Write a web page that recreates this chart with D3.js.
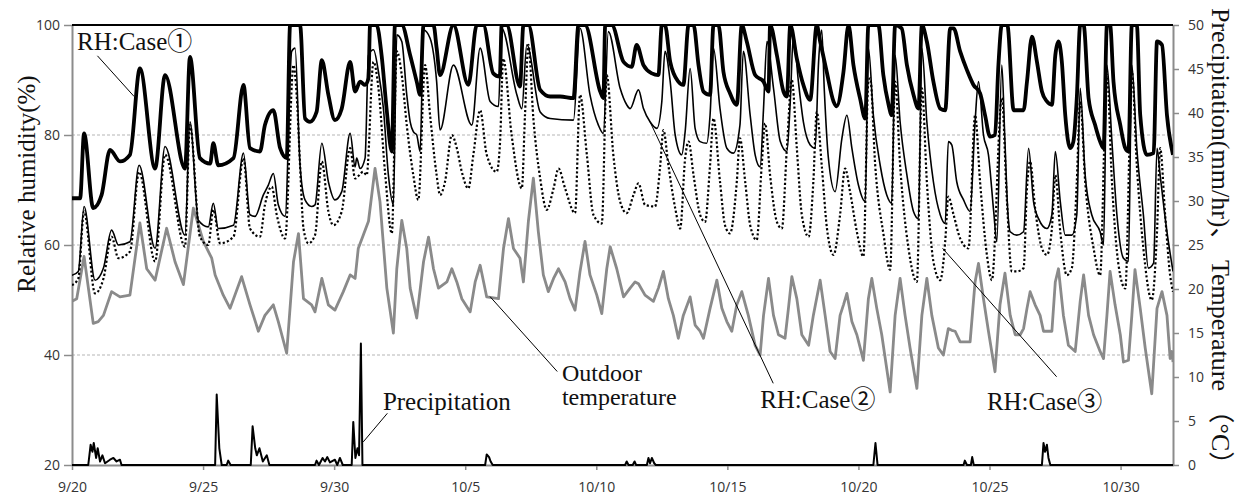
<!DOCTYPE html>
<html>
<head>
<meta charset="utf-8">
<script src="https://cdn.jsdelivr.net/npm/d3@7"></script>
<style>
  body { margin: 0; background: #fff; }
  .tick text { font-family: "Open Sans", sans-serif; font-size: 14px; fill: #333; }
  .serif { font-family: "Liberation Serif", "Noto Sans CJK JP", serif; fill: #111; }
</style>
</head>
<body>
<div id="chart"></div>
<script>
// [day since 9/20 00:00, value]
const rhCase1 = [[0.00,68.5],[0.31,68.5],[0.46,80.3],[0.81,66.7],[1.13,69.1],[1.45,77.3],[1.83,75.2],[2.21,76.4],[2.59,92.1],[3.17,73.9],[3.55,90.9],[4.31,73.9],[4.50,94.2],[4.88,75.8],[5.27,74.8],[5.39,78.5],[5.58,74.5],[6.16,75.8],[6.54,89.1],[6.79,77.6],[7.17,77.0],[7.36,81.8],[7.68,84.5],[7.94,77.6],[8.19,75.8],[8.32,100],[8.70,100],[8.89,83.0],[9.08,82.4],[9.33,84.2],[9.53,93.6],[9.78,87.3],[10.03,82.7],[10.29,84.8],[10.61,93.3],[10.80,87.9],[10.99,89.7],[11.18,89.1],[11.31,90.3],[11.37,100],[11.62,100],[11.81,94.5],[12.00,84.8],[12.20,77.0],[12.32,100],[12.58,100],[12.90,94.5],[13.15,89.7],[13.28,87.3],[13.41,100],[13.79,100],[13.91,95.8],[14.04,90.9],[14.55,100],[15.12,89.1],[15.44,100],[15.69,100],[16.07,91.2],[16.32,90.6],[16.39,100],[16.58,100],[17.09,88.8],[17.22,100],[17.41,100],[17.86,88.2],[18.24,87.0],[18.62,87.0],[19.13,86.7],[19.32,100],[19.57,100],[20.15,87.9],[20.27,86.7],[20.34,100],[20.59,100],[21.04,93.3],[21.35,92.4],[21.54,96.4],[21.80,92.7],[22.12,91.2],[22.37,90.9],[22.50,100],[22.62,100],[22.82,93.3],[23.13,89.7],[23.32,89.1],[23.52,100],[23.71,100],[23.90,92.7],[24.09,87.9],[24.34,87.3],[24.47,100],[24.66,100],[24.85,91.5],[25.10,87.6],[25.36,85.5],[25.55,100],[25.74,97.0],[26.06,90.9],[26.38,89.7],[26.57,87.9],[26.63,100],[26.89,94.5],[27.14,87.9],[27.27,87.0],[27.40,100],[27.65,93.9],[27.90,89.1],[28.16,86.4],[28.41,100],[28.54,97.0],[28.79,91.5],[29.05,86.1],[29.17,85.2],[29.43,91.5],[29.62,100],[29.81,92.7],[30.06,86.7],[30.26,83.0],[30.38,100],[30.76,100],[30.95,90.9],[31.15,85.5],[31.27,83.6],[31.40,100],[31.65,99.4],[31.85,92.7],[32.10,87.3],[32.29,84.8],[32.42,100],[32.61,97.0],[32.86,89.7],[33.12,84.8],[33.31,84.5],[33.50,99.4],[33.63,99.4],[33.88,95.2],[34.14,91.8],[34.39,89.1],[34.64,87.6],[34.83,83.6],[35.02,79.7],[35.21,80.0],[35.34,92.7],[35.47,100],[35.68,100],[35.92,84.5],[36.30,84.5],[36.43,89.7],[36.62,97.9],[36.81,93.3],[37.00,87.9],[37.19,86.1],[37.38,85.5],[37.51,94.5],[37.63,97.0],[37.76,93.3],[37.89,83.6],[38.08,77.6],[38.20,78.8],[38.33,86.7],[38.46,100],[38.59,100],[38.78,86.7],[39.03,81.8],[39.22,78.8],[39.35,77.6],[39.48,100],[39.60,100],[39.73,89.7],[39.99,81.8],[40.18,77.6],[40.30,77.0],[40.43,100],[40.62,100],[40.75,83.6],[41.00,76.4],[41.26,76.7],[41.39,97.0],[41.58,96.4],[41.77,83.6],[42.00,76.4]];

const rhCase2 = [[0.00,54.5],[0.24,55.2],[0.46,67.0],[0.88,53.6],[1.20,55.8],[1.51,62.7],[1.77,60.0],[2.21,60.6],[2.56,74.5],[3.17,59.4],[3.55,77.9],[4.31,61.8],[4.50,82.4],[4.82,64.5],[5.20,63.3],[5.39,67.6],[5.58,63.0],[6.16,63.6],[6.54,76.7],[6.79,65.5],[6.98,65.2],[7.30,69.1],[7.49,70.9],[7.68,73.0],[7.87,67.3],[8.13,65.2],[8.38,95.2],[8.51,95.8],[8.70,74.5],[8.89,68.2],[9.14,67.0],[9.27,67.3],[9.53,78.5],[9.78,71.5],[10.03,68.2],[10.29,69.7],[10.61,80.3],[10.80,74.2],[10.86,75.8],[10.99,73.9],[11.18,75.8],[11.31,94.5],[11.50,95.5],[11.69,91.5],[11.88,84.8],[12.07,72.7],[12.26,67.3],[12.39,98.2],[12.58,97.0],[12.77,87.3],[12.90,82.4],[13.02,80.6],[13.15,80.0],[13.28,77.0],[13.41,99.1],[13.66,97.6],[13.91,89.7],[14.04,80.9],[14.55,92.7],[15.25,81.8],[15.57,95.8],[15.95,86.1],[16.27,85.2],[16.39,99.4],[16.97,87.3],[17.16,84.8],[17.35,96.4],[17.86,84.2],[18.24,83.0],[19.13,82.7],[19.38,99.4],[19.76,87.3],[20.08,81.8],[20.27,80.3],[20.46,98.8],[20.91,88.5],[21.16,85.5],[21.29,84.8],[21.61,88.2],[21.80,84.8],[22.05,82.4],[22.31,81.2],[22.50,86.1],[22.62,95.2],[22.82,89.7],[23.01,80.0],[23.26,76.4],[23.39,80.6],[23.58,92.1],[23.77,81.2],[23.96,78.8],[24.21,78.5],[24.34,83.6],[24.47,95.8],[24.72,84.8],[24.98,77.6],[25.23,76.7],[25.48,81.8],[25.61,95.2],[25.87,83.6],[26.06,76.4],[26.25,74.2],[26.38,84.8],[26.51,97.0],[26.76,88.5],[27.02,78.8],[27.27,77.0],[27.40,86.1],[27.52,98.2],[27.71,89.7],[27.90,82.4],[28.16,78.2],[28.35,77.6],[28.48,93.3],[28.60,99.1],[28.70,88.0],[28.85,76.0],[29.11,69.7],[29.37,79.4],[29.56,83.6],[29.75,77.6],[30.00,70.9],[30.26,67.9],[30.38,95.8],[30.57,83.6],[30.83,74.5],[31.08,69.1],[31.27,67.6],[31.40,94.5],[31.59,82.4],[31.85,72.7],[32.10,66.1],[32.29,64.8],[32.42,95.8],[32.61,82.4],[32.86,71.5],[33.12,65.5],[33.31,63.9],[33.43,78.8],[33.56,78.2],[33.75,71.5],[34.01,68.2],[34.26,66.1],[34.45,82.4],[34.58,89.7],[34.77,80.0],[34.96,76.4],[35.16,66.1],[35.28,60.6],[35.47,92.7],[35.58,80.0],[35.70,66.0],[35.79,62.4],[36.04,61.8],[36.30,62.4],[36.49,77.6],[36.68,67.9],[36.87,64.8],[37.19,63.0],[37.38,65.5],[37.51,77.0],[37.70,67.9],[37.89,61.8],[38.14,61.8],[38.33,65.5],[38.46,88.5],[38.65,72.7],[38.90,65.5],[39.22,62.4],[39.35,60.0],[39.48,92.7],[39.67,78.8],[39.86,65.5],[40.11,57.6],[40.30,57.0],[40.43,92.7],[40.62,77.6],[40.87,65.5],[41.06,55.8],[41.26,56.7],[41.39,77.6],[41.51,72.7],[41.77,62.4],[42.00,55.2]];

const rhCase3 = [[0.00,52.7],[0.24,53.9],[0.46,66.1],[0.88,51.2],[1.20,53.9],[1.51,61.5],[1.77,57.6],[2.21,58.8],[2.56,73.3],[3.17,57.0],[3.55,76.4],[4.31,59.7],[4.50,81.8],[4.88,61.5],[5.20,60.0],[5.39,66.4],[5.65,60.3],[6.16,61.5],[6.54,75.8],[6.79,63.0],[7.17,61.5],[7.36,67.3],[7.62,70.6],[7.81,65.5],[8.13,61.2],[8.45,92.7],[8.57,87.3],[8.70,74.5],[8.83,63.0],[9.02,60.3],[9.27,61.8],[9.53,75.2],[9.78,66.1],[9.97,63.6],[10.29,66.1],[10.61,77.6],[10.80,72.1],[11.11,73.3],[11.24,72.7],[11.50,93.3],[11.69,88.5],[11.94,73.3],[12.20,62.1],[12.39,95.2],[12.58,90.9],[12.77,81.8],[13.02,72.7],[13.21,68.2],[13.47,92.7],[13.66,83.6],[13.91,72.7],[14.04,69.1],[14.23,71.5],[14.49,80.0],[14.68,77.6],[14.87,73.3],[15.12,70.3],[15.31,76.4],[15.57,84.5],[15.82,76.4],[16.20,73.3],[16.33,78.8],[16.45,93.9],[16.77,80.0],[17.16,70.3],[17.28,83.6],[17.41,96.4],[17.60,83.0],[17.86,72.1],[18.11,66.4],[18.37,70.3],[18.56,73.9],[18.81,70.3],[19.19,65.8],[19.38,87.3],[19.64,76.4],[19.89,65.5],[20.21,63.9],[20.40,90.9],[20.65,76.4],[20.91,67.9],[21.16,65.8],[21.42,69.1],[21.61,71.2],[21.86,67.3],[22.24,67.0],[22.44,74.5],[22.56,80.9],[22.75,74.5],[23.01,66.7],[23.20,63.0],[23.39,75.8],[23.52,78.8],[23.71,72.7],[23.96,65.5],[24.15,64.2],[24.34,74.5],[24.47,83.0],[24.72,71.5],[24.91,63.6],[25.10,62.1],[25.36,71.5],[25.48,79.4],[25.68,71.5],[25.87,63.6],[26.12,60.9],[26.31,74.5],[26.44,82.1],[26.63,72.7],[26.89,64.2],[27.08,63.0],[27.27,77.6],[27.46,90.0],[27.65,77.6],[27.84,65.5],[28.10,61.5],[28.28,71.5],[28.41,84.2],[28.60,74.5],[28.80,63.0],[29.05,58.2],[29.30,65.5],[29.49,73.9],[29.68,69.7],[29.94,62.4],[30.19,57.9],[30.38,89.7],[30.45,90.3],[30.64,74.5],[30.96,61.8],[31.21,55.5],[31.40,89.7],[31.59,74.5],[31.91,59.4],[32.23,53.3],[32.42,88.5],[32.61,71.5],[32.86,57.0],[33.12,53.6],[33.31,60.6],[33.43,68.8],[33.63,65.5],[33.88,61.2],[34.20,59.4],[34.45,83.6],[34.64,71.5],[34.90,58.2],[35.09,53.6],[35.47,86.7],[35.66,68.5],[35.85,55.2],[36.04,55.2],[36.30,55.8],[36.43,70.3],[36.55,75.2],[36.74,66.7],[37.00,59.4],[37.19,58.2],[37.38,63.0],[37.51,72.7],[37.70,62.4],[37.95,54.5],[38.14,55.8],[38.33,71.5],[38.46,86.1],[38.65,71.5],[38.97,59.4],[39.22,54.5],[39.41,83.6],[39.48,90.9],[39.67,71.5],[39.92,56.4],[40.18,52.1],[40.37,83.6],[40.43,91.5],[40.62,74.5],[40.87,59.4],[41.19,50.0],[41.39,62.4],[41.51,77.6],[41.70,65.5],[41.89,54.5],[42.00,51.5]];

const outdoorTemp = [[0.00,18.6],[0.18,18.9],[0.46,23.7],[0.81,16.1],[1.00,16.3],[1.20,17.0],[1.51,19.7],[1.83,19.1],[2.21,19.3],[2.59,27.5],[2.85,22.3],[3.17,21.0],[3.61,26.9],[3.93,23.1],[4.25,20.5],[4.63,29.2],[5.01,25.4],[5.33,23.5],[5.46,21.6],[5.77,19.3],[6.03,17.8],[6.47,21.4],[6.79,18.2],[7.11,15.2],[7.36,17.0],[7.68,18.2],[7.87,16.3],[8.19,12.7],[8.45,23.1],[8.64,26.3],[8.83,18.9],[9.14,18.2],[9.27,17.4],[9.53,21.2],[9.78,18.2],[10.03,17.6],[10.35,19.7],[10.61,21.6],[10.80,21.2],[10.92,24.6],[11.11,26.1],[11.31,27.7],[11.56,33.7],[11.75,29.9],[12.01,20.1],[12.26,15.0],[12.39,22.3],[12.58,27.8],[12.77,24.6],[12.90,20.1],[13.15,16.7],[13.41,23.1],[13.60,25.9],[13.79,22.3],[13.98,20.1],[14.30,20.8],[14.49,22.3],[14.68,20.8],[14.87,18.9],[15.19,17.4],[15.38,20.8],[15.57,22.7],[15.82,19.1],[16.27,18.9],[16.46,24.6],[16.65,28.0],[16.84,24.6],[17.09,23.5],[17.22,20.8],[17.41,27.7],[17.60,32.6],[17.79,26.5],[17.98,21.6],[18.17,19.7],[18.37,21.2],[18.56,22.3],[18.81,20.8],[19.00,18.9],[19.19,17.6],[19.38,22.0],[19.57,25.4],[19.76,21.6],[20.02,19.3],[20.21,17.2],[20.40,22.3],[20.53,24.8],[20.78,22.3],[21.04,19.1],[21.29,20.1],[21.48,20.8],[21.61,20.6],[21.86,19.3],[22.18,18.6],[22.37,20.1],[22.56,22.0],[22.75,18.9],[22.94,17.0],[23.13,14.4],[23.32,17.0],[23.58,19.1],[23.77,15.9],[23.96,15.2],[24.09,14.4],[24.34,17.8],[24.60,21.0],[24.79,17.8],[24.98,16.3],[25.17,15.2],[25.36,18.2],[25.55,19.7],[25.80,17.0],[26.06,13.6],[26.25,12.5],[26.38,17.0],[26.57,21.2],[26.76,17.0],[26.95,14.8],[27.20,14.4],[27.33,17.8],[27.46,21.4],[27.65,18.9],[27.84,14.8],[28.10,13.6],[28.28,17.0],[28.54,21.0],[28.73,17.0],[28.92,12.9],[29.11,12.1],[29.30,17.0],[29.43,18.2],[29.56,19.5],[29.75,16.3],[29.94,14.8],[30.19,11.9],[30.38,18.9],[30.51,21.2],[30.70,17.8],[30.89,14.8],[31.21,8.3],[31.40,17.0],[31.59,21.2],[31.78,17.0],[31.97,13.3],[32.23,8.7],[32.42,17.0],[32.61,21.2],[32.80,17.0],[33.05,13.3],[33.24,12.5],[33.43,15.5],[33.56,15.3],[33.69,15.2],[33.88,14.0],[34.26,14.0],[34.45,20.8],[34.58,22.9],[34.77,18.9],[34.96,15.2],[35.21,10.6],[35.40,18.2],[35.59,21.8],[35.79,17.0],[35.98,14.8],[36.17,14.8],[36.30,15.5],[36.43,17.8],[36.55,19.7],[36.74,18.2],[36.93,17.0],[37.06,15.2],[37.38,15.2],[37.51,20.8],[37.63,22.3],[37.82,17.0],[38.01,13.6],[38.27,12.9],[38.46,18.6],[38.59,21.6],[38.78,17.0],[38.97,14.8],[39.22,12.9],[39.35,12.1],[39.48,17.0],[39.60,22.0],[39.79,18.2],[39.99,14.8],[40.11,11.7],[40.30,11.9],[40.43,17.0],[40.55,22.2],[40.75,17.8],[40.94,13.3],[41.19,8.1],[41.39,17.8],[41.58,19.7],[41.77,17.0],[41.89,12.1],[41.96,12.9],[42.00,11.7]];

const precipitation = [[0.00,0],[0.62,0],[0.71,2.3],[0.78,1.5],[0.83,2.5],[0.92,0.8],[0.98,1.9],[1.07,0.4],[1.16,1.1],[1.26,0.2],[1.45,0.6],[1.58,0.8],[1.70,0.4],[1.83,0.6],[1.89,0],[5.46,0],[5.52,8.0],[5.62,1.9],[5.71,0],[5.90,0],[5.96,0.5],[6.05,0],[6.82,0],[6.89,4.4],[6.99,1.9],[7.05,1.1],[7.15,1.9],[7.28,0.4],[7.43,1.1],[7.53,0],[9.27,0],[9.33,0.5],[9.42,0],[9.56,0.8],[9.65,0.4],[9.74,0.9],[9.84,0.3],[10.03,0.6],[10.12,0],[10.22,0.8],[10.33,0],[10.67,0],[10.73,4.9],[10.81,0.8],[10.89,1.9],[10.95,1.1],[11.02,13.8],[11.08,0],[15.76,0],[15.82,1.2],[15.91,0.9],[15.97,0.4],[16.05,0],[21.10,0],[21.16,0.4],[21.23,0],[21.39,0],[21.46,0.4],[21.52,0],[21.93,0],[21.99,0.8],[22.05,0.2],[22.12,0.8],[22.21,0.2],[22.27,0],[30.57,0],[30.65,2.5],[30.73,0],[34.01,0],[34.06,0.5],[34.14,0],[34.29,0],[34.34,0.9],[34.40,0],[37.00,0],[37.06,2.5],[37.12,1.5],[37.19,2.3],[37.25,0.8],[37.32,0],[42.00,0]];

const xTickLabels = ["9/20","9/25","9/30","10/5","10/10","10/15","10/20","10/25","10/30"];
const rhTicks = [20, 40, 60, 80, 100];
const rhGrid = [40, 60, 80];
const rightTicks = [0, 5, 10, 15, 20, 25, 30, 35, 40, 45, 50];

// callouts: label lines, text anchor and leader ends in [day, RH]
const callouts = [
  { lines: ["RH:Case①"], at: [0.19, 95.5], from: [0.97, 94.4], to: [2.37, 87.0] },
  { lines: ["Precipitation"], at: [11.86, 30.0], from: [12.03, 29.4], to: [11.11, 24.2] },
  { lines: ["Outdoor", "temperature"], at: [18.69, 35.3], from: [18.51, 37.0], to: [15.95, 50.6] },
  { lines: ["RH:Case②"], at: [26.25, 30.4], from: [26.75, 34.85], to: [22.05, 82.4] },
  { lines: ["RH:Case③"], at: [34.9, 30.0], from: [37.56, 36.05], to: [33.21, 59.4] }
];

const W = 1252, H = 500;
const margin = { top: 25, right: 79, bottom: 35, left: 72 };
const width = W - margin.left - margin.right;
const height = H - margin.top - margin.bottom;

const start = Date.UTC(2019, 8, 20);
const toDate = d => new Date(start + d * 864e5);

const x = d3.scaleUtc()
  .domain([toDate(0), toDate(42)])
  .range([0, width]);
const yL = d3.scaleLinear().domain([20, 100]).range([height, 0]);
const yR = d3.scaleLinear().domain([0, 50]).range([height, 0]);

const svg = d3.select("#chart").append("svg")
  .attr("width", W).attr("height", H);
const g = svg.append("g").attr("transform", `translate(${margin.left},${margin.top})`);

g.append("clipPath").attr("id", "clip")
  .append("rect").attr("x", 0).attr("y", 0).attr("width", width).attr("height", height + 3);

// grid
g.selectAll(".grid").data(rhGrid).enter().append("line")
  .attr("x1", 0).attr("x2", width)
  .attr("y1", d => yL(d)).attr("y2", d => yL(d))
  .attr("stroke", "#b5b5b5").attr("stroke-width", 1).attr("stroke-dasharray", "3,2");

// axes
const tickDates = xTickLabels.map(s => {
  const [m, d] = s.split("/");
  return new Date(Date.UTC(2019, +m - 1, +d));
});

const xAxis = g.append("g").attr("transform", `translate(0,${height})`)
  .call(d3.axisBottom(x).tickValues(tickDates).tickFormat((d, i) => xTickLabels[i])
    .tickSize(5).tickSizeOuter(0).tickPadding(12));
const yAxisL = g.append("g")
  .call(d3.axisLeft(yL).tickValues(rhTicks).tickSize(8).tickSizeOuter(0).tickPadding(4));
const yAxisR = g.append("g").attr("transform", `translate(${width},0)`)
  .call(d3.axisRight(yR).tickValues(rightTicks).tickSize(6).tickSizeOuter(0).tickPadding(9));

[xAxis, yAxisL, yAxisR].forEach(a => {
  a.select(".domain").attr("stroke", "#8c8c8c").attr("stroke-width", 2);
  a.selectAll(".tick line").attr("stroke", "#8c8c8c").attr("stroke-width", 1.5);
});

// top border
g.append("line").attr("x1", 0).attr("x2", width).attr("y1", 0).attr("y2", 0)
  .attr("stroke", "#000").attr("stroke-width", 2);

// series
const lineL = d3.line().x(d => x(toDate(d[0]))).y(d => yL(d[1])).curve(d3.curveMonotoneX);
const lineT = d3.line().x(d => x(toDate(d[0]))).y(d => yR(d[1]));
const lineP = d3.line().x(d => x(toDate(d[0]))).y(d => yR(d[1]));

const plot = g.append("g").attr("clip-path", "url(#clip)");

plot.append("path").datum(outdoorTemp).attr("d", lineT)
  .attr("fill", "none").attr("stroke", "#8a8a8a").attr("stroke-width", 2.8).attr("stroke-linejoin", "round");
plot.append("path").datum(rhCase3).attr("d", lineL)
  .attr("fill", "none").attr("stroke", "#000").attr("stroke-width", 2.2).attr("stroke-dasharray", "2.2,2.2");
plot.append("path").datum(rhCase2).attr("d", lineL)
  .attr("fill", "none").attr("stroke", "#000").attr("stroke-width", 1.6).attr("stroke-linejoin", "round");
plot.append("path").datum(rhCase1).attr("d", lineL)
  .attr("fill", "none").attr("stroke", "#000").attr("stroke-width", 3.8).attr("stroke-linejoin", "round");
plot.append("path").datum(precipitation).attr("d", lineP)
  .attr("fill", "none").attr("stroke", "#000").attr("stroke-width", 2).attr("stroke-linejoin", "round");

// callouts
const pt = p => [x(toDate(p[0])), yL(p[1])];
callouts.forEach(c => {
  const a = pt(c.from), b = pt(c.to), t = pt(c.at);
  g.append("line").attr("x1", a[0]).attr("y1", a[1]).attr("x2", b[0]).attr("y2", b[1])
    .attr("stroke", "#000").attr("stroke-width", 1);
  c.lines.forEach((s, i) => {
    g.append("text").attr("class", "serif")
      .attr("x", t[0]).attr("y", t[1] + i * 24)
      .style("font-size", c.lines.length > 1 ? "24px" : "25px")
      .text(s);
  });
});

// axis titles
svg.append("text").attr("class", "serif")
  .attr("transform", "translate(26,184) rotate(-90)")
  .attr("text-anchor", "middle").attr("dominant-baseline", "central")
  .style("font-size", "25px")
  .text("Relative humidity(%)");

svg.append("text").attr("class", "serif")
  .attr("transform", "translate(1220,8) rotate(90)")
  .attr("text-anchor", "start").attr("dominant-baseline", "central")
  .style("font-size", "26px")
  .text("Precipitation(mm/hr)、 Temperature （°C）");
</script>
</body>
</html>
